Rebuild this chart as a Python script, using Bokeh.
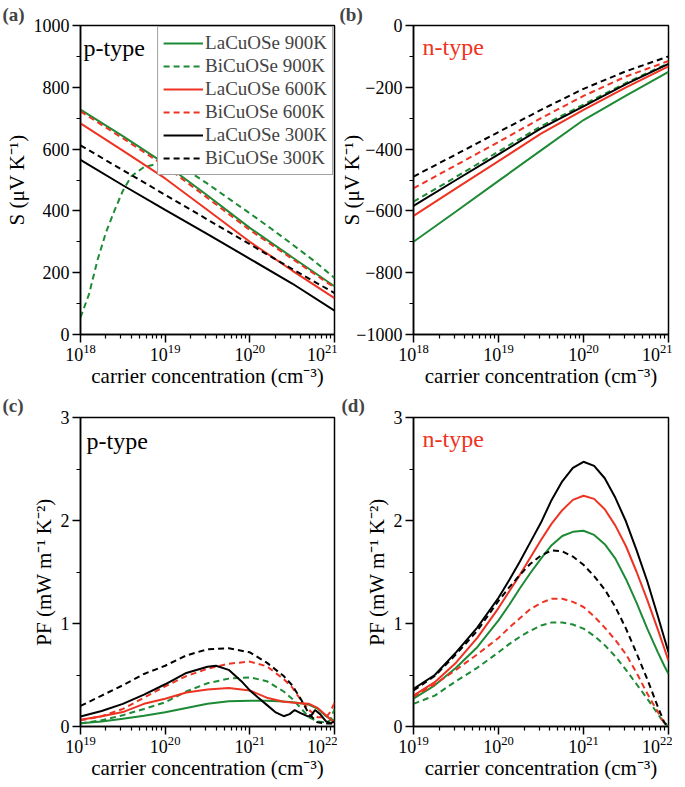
from bokeh.plotting import figure
from bokeh.models import Range1d, FixedTicker, Label
from bokeh.layouts import column, row
from bokeh.embed import file_html
from bokeh.resources import INLINE

GREEN = "#1d8a35"
RED = "#ee3322"
BLACK = "#000000"
FONT = "Liberation Serif"

# ---------------- data ----------------
# (a) p-type Seebeck, x = log10(carrier concentration / cm^-3)
a_exp = [18.0, 18.5, 19.0, 19.5, 20.0, 20.5, 21.0]
a_la900 = [728, 642, 552, 450, 345, 250, 156]
a_la600 = [683, 595, 505, 403, 300, 207, 118]
a_bi600 = [722, 635, 545, 442, 338, 245, 152]
a_la300 = [565, 483, 403, 325, 245, 165, 77]
a_bi300 = [612, 532, 452, 372, 292, 212, 134]
a_bi900_exp = [18.0, 18.1, 18.2, 18.3, 18.4, 18.5, 18.6, 18.75, 18.9, 19.05,
               19.25, 19.5, 19.75, 20.0, 20.25, 20.5, 20.75, 21.0]
a_bi900 = [55, 130, 240, 330, 400, 465, 512, 542, 552, 550,
           533, 488, 440, 392, 343, 292, 240, 183]

# (b) n-type Seebeck
b_exp = [18.0, 18.5, 19.0, 19.5, 20.0, 20.5, 21.0]
b_la900 = [-700, -602, -503, -404, -306, -227, -150]
b_bi900 = [-570, -490, -408, -326, -256, -186, -122]
b_la600 = [-616, -527, -439, -350, -273, -200, -132]
b_bi600 = [-527, -452, -377, -300, -228, -165, -115]
b_la300 = [-584, -500, -417, -333, -262, -190, -124]
b_bi300 = [-489, -417, -345, -273, -205, -148, -100]

# (c) p-type power factor
c_exp = [19.0, 19.25, 19.5, 19.75, 20.0, 20.25, 20.5, 20.75, 21.0, 21.2,
         21.4, 21.5, 21.6, 21.7, 21.8, 21.9, 21.95, 22.0]
c_la900 = [0.032, 0.048, 0.075, 0.105, 0.139, 0.18, 0.22, 0.245, 0.25, 0.25,
           0.243, 0.235, 0.225, 0.21, 0.175, 0.10, 0.075, 0.06]
c_bi900 = [0.03, 0.06, 0.11, 0.17, 0.235, 0.34, 0.42, 0.465, 0.477, 0.44,
           0.34, 0.27, 0.18, 0.09, 0.05, 0.04, 0.06, 0.17]
c_la600 = [0.065, 0.10, 0.14, 0.22, 0.27, 0.33, 0.36, 0.374, 0.35, 0.28,
           0.24, 0.232, 0.225, 0.22, 0.18, 0.11, 0.07, 0.04]
c_bi600 = [0.06, 0.10, 0.17, 0.28, 0.39, 0.49, 0.56, 0.61, 0.63, 0.585,
           0.46, 0.38, 0.26, 0.16, 0.09, 0.09, 0.14, 0.23]
c_bi300 = [0.20, 0.30, 0.40, 0.51, 0.59, 0.69, 0.75, 0.76, 0.72, 0.62,
           0.49, 0.40, 0.27, 0.12, 0.04, 0.03, 0.03, 0.03]
c_la300_exp = [19.0, 19.25, 19.5, 19.75, 20.0, 20.25, 20.5, 20.6, 20.75, 20.9,
               21.0, 21.1, 21.2, 21.3, 21.4, 21.47, 21.53, 21.6, 21.68, 21.72,
               21.77, 21.83, 21.9, 21.95, 22.0]
c_la300 = [0.097, 0.15, 0.22, 0.31, 0.41, 0.52, 0.58, 0.59, 0.55, 0.44,
           0.35, 0.28, 0.21, 0.14, 0.10, 0.12, 0.16, 0.13, 0.10, 0.10,
           0.16, 0.12, 0.05, 0.03, 0.05]

# (d) n-type power factor
d_exp = [19.0, 19.25, 19.5, 19.75, 20.0, 20.125, 20.25, 20.375, 20.5, 20.625,
         20.75, 20.875, 21.0, 21.125, 21.25, 21.375, 21.5, 21.625, 21.75,
         21.875, 21.95, 22.0]
d_la300 = [0.365, 0.50, 0.72, 0.96, 1.25, 1.42, 1.60, 1.79, 1.98, 2.20,
           2.38, 2.51, 2.57, 2.53, 2.41, 2.22, 1.99, 1.71, 1.41, 1.07, 0.86, 0.72]
d_la600 = [0.30, 0.43, 0.62, 0.86, 1.15, 1.31, 1.47, 1.64, 1.81, 1.97,
           2.10, 2.20, 2.24, 2.21, 2.11, 1.95, 1.75, 1.50, 1.23, 0.94, 0.76, 0.64]
d_la900 = [0.27, 0.40, 0.57, 0.77, 1.03, 1.18, 1.34, 1.49, 1.63, 1.76,
           1.85, 1.89, 1.90, 1.86, 1.77, 1.63, 1.43, 1.20, 0.95, 0.72, 0.59, 0.51]
d_bi300 = [0.35, 0.49, 0.70, 0.93, 1.22, 1.35, 1.47, 1.58, 1.66, 1.71,
           1.70, 1.65, 1.57, 1.46, 1.33, 1.16, 0.95, 0.71, 0.46, 0.19, 0.04, 0.0]
d_bi600 = [0.29, 0.41, 0.55, 0.70, 0.86, 0.96, 1.05, 1.14, 1.20, 1.24,
           1.24, 1.21, 1.16, 1.07, 0.96, 0.84, 0.70, 0.52, 0.32, 0.14, 0.03, 0.0]
d_bi900 = [0.22, 0.30, 0.44, 0.57, 0.72, 0.80, 0.87, 0.93, 0.98, 1.01,
           1.01, 0.99, 0.95, 0.88, 0.79, 0.68, 0.55, 0.41, 0.27, 0.12, 0.03, 0.0]

legend_names = ["LaCuOSe 900K", "BiCuOSe 900K", "LaCuOSe 600K",
                "BiCuOSe 600K", "LaCuOSe 300K", "BiCuOSe 300K"]

a_yticks = [0, 200, 400, 600, 800, 1000]
b_yticks = [-1000, -800, -600, -400, -200, 0]
pf_yticks = [0, 1, 2, 3]

S_LABEL = "S (\u03bcV K\u207b\u00b9)"
PF_LABEL = "PF (mW m\u207b\u00b9 K\u207b\u00b2)"
X_LABEL = "carrier concentration (cm\u207b\u00b3)"


def px(exps):
    return [10.0 ** e for e in exps]


def make_fig(w, h, bl, br, bt, bb, xdec, yticks, yminor_step, ylabel,
             ylabel_standoff, letter, letter_offset, letter_standoff):
    lo, hi = xdec
    p = figure(width=w, height=h, x_axis_type="log",
               x_range=Range1d(10.0 ** lo, 10.0 ** hi),
               y_range=Range1d(yticks[0], yticks[-1]),
               output_backend="svg", toolbar_location=None,
               min_border_left=bl, min_border_right=br,
               min_border_top=bt, min_border_bottom=bb)
    p.title.text = letter
    p.title.align = "left"
    p.title.offset = letter_offset
    p.title.standoff = letter_standoff
    p.title.text_font = FONT
    p.title.text_font_size = "19px"
    p.title.text_font_style = "bold"
    p.xgrid.visible = False
    p.ygrid.visible = False
    p.outline_line_color = "black"
    p.outline_line_width = 1.5
    p.background_fill_color = "white"
    p.border_fill_color = "white"
    majors = [10.0 ** e for e in range(lo, hi + 1)]
    minors = [m * 10.0 ** e for e in range(lo, hi) for m in range(2, 10)]
    p.xaxis.ticker = FixedTicker(ticks=majors, minor_ticks=minors)
    ymin = [yticks[i] + yminor_step for i in range(len(yticks) - 1)]
    p.yaxis.ticker = FixedTicker(ticks=yticks, minor_ticks=ymin)
    for ax in (p.xaxis[0], p.yaxis[0]):
        ax.axis_line_width = 1.5
        ax.axis_line_color = "black"
        ax.major_tick_out = 8
        ax.major_tick_in = 0
        ax.minor_tick_out = 4
        ax.minor_tick_in = 0
        ax.major_tick_line_width = 1.5
        ax.minor_tick_line_width = 1.2
        ax.major_tick_line_color = "black"
        ax.minor_tick_line_color = "black"
        ax.major_label_text_font = FONT
        ax.major_label_text_font_size = "18px"
        ax.major_label_text_color = "black"
        ax.axis_label_text_font = FONT
        ax.axis_label_text_font_size = "21px"
        ax.axis_label_text_font_style = "normal"
        ax.axis_label_text_color = "black"
    p.yaxis.major_label_standoff = 3
    p.yaxis.axis_label_standoff = ylabel_standoff
    p.yaxis.axis_label = ylabel
    p.xaxis.major_label_standoff = 1
    p.xaxis.axis_label = X_LABEL
    p.xaxis.axis_label_standoff = 0
    return p


def add_text(p, text, x, y, color):
    p.add_layout(Label(text=text, x=x, y=y, x_units="screen", y_units="screen",
                       text_font=FONT, text_font_size="24px", text_color=color,
                       text_baseline="middle", text_align="left"))


def draw(p, exps_list, series, legend=False):
    styles = [(GREEN, "solid"), (GREEN, "dashed"), (RED, "solid"),
              (RED, "dashed"), (BLACK, "solid"), (BLACK, "dashed")]
    for (col, dash), exps, ys, name in zip(styles, exps_list, series, legend_names):
        kw = dict(line_color=col, line_width=2)
        kw["line_dash"] = "6 4" if dash == "dashed" else "solid"
        if legend:
            kw["legend_label"] = name
        p.line(px(exps), ys, **kw)


FH = 310  # frame height

# ---- (a)
pa = make_fig(337, 390, 80, 3, 25, 55, (18, 21), a_yticks, 100, S_LABEL, 2,
              "(a)", -78, 2)
draw(pa, [a_exp, a_bi900_exp, a_exp, a_exp, a_exp, a_exp],
     [a_la900, a_bi900, a_la600, a_bi600, a_la300, a_bi300], legend=True)
lg = pa.legend[0]
lg.location = "top_right"
lg.margin = 1
lg.padding = 5
lg.spacing = 1
lg.glyph_width = 40
lg.glyph_height = 20
lg.label_height = 20
lg.label_standoff = 2
lg.label_text_font = FONT
lg.label_text_font_size = "19px"
lg.border_line_color = "#444444"
lg.border_line_width = 1
lg.background_fill_alpha = 1.0
add_text(pa, "p-type", 3, FH - 23, "black")

# ---- (b)
pb = make_fig(335, 390, 76, 4, 25, 55, (18, 21), b_yticks, 100, S_LABEL, -11,
              "(b)", -74, 2)
draw(pb, [b_exp] * 6, [b_la900, b_bi900, b_la600, b_bi600, b_la300, b_bi300])
add_text(pb, "n-type", 9, FH - 22, RED)

# ---- (c)
pc = make_fig(337, 397, 80, 3, 26, 61, (19, 22), pf_yticks, 0.5, PF_LABEL, 2,
              "(c)", -78, 4)
draw(pc, [c_exp, c_exp, c_exp, c_exp, c_la300_exp, c_exp],
     [c_la900, c_bi900, c_la600, c_bi600, c_la300, c_bi300])
add_text(pc, "p-type", 6, FH - 24, "black")

# ---- (d)
pd_ = make_fig(335, 397, 76, 4, 26, 61, (19, 22), pf_yticks, 0.5, PF_LABEL, 2,
               "(d)", -72, 4)
draw(pd_, [d_exp] * 6, [d_la900, d_bi900, d_la600, d_bi600, d_la300, d_bi300])
add_text(pd_, "n-type", 9, FH - 22, RED)

layout = column(row(pa, pb), row(pc, pd_))
open("out.html", "w").write(file_html(layout, INLINE))
